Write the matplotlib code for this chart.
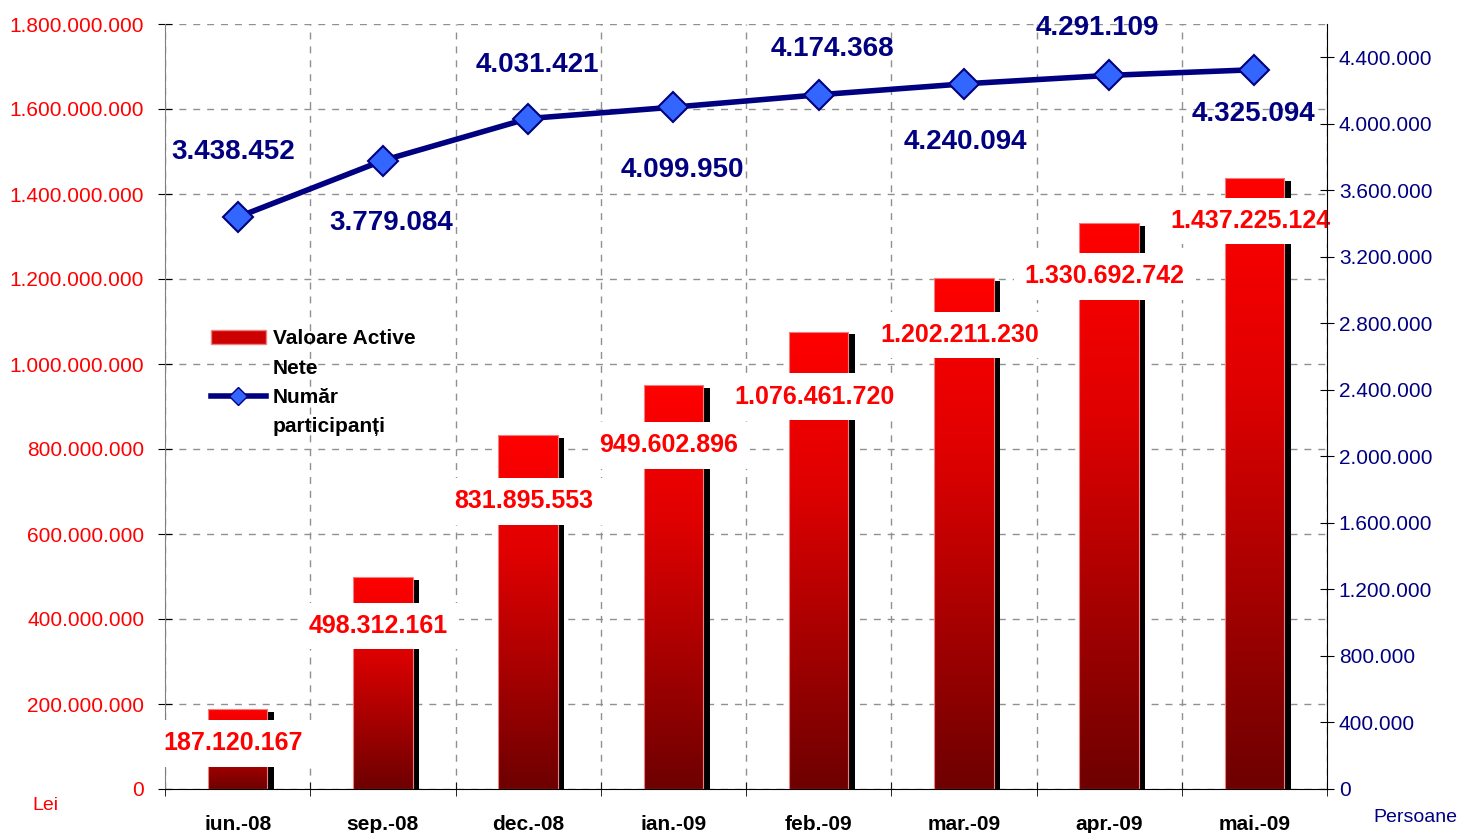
import matplotlib.pyplot as plt
import numpy as np
from matplotlib.colors import LinearSegmentedColormap
from matplotlib.patches import Patch
from matplotlib.lines import Line2D
from matplotlib.ticker import FuncFormatter, MultipleLocator

plt.rcParams['font.family'] = ['Liberation Sans', 'DejaVu Sans']

# data
luni = ['iun.-08', 'sep.-08', 'dec.-08', 'ian.-09', 'feb.-09', 'mar.-09', 'apr.-09', 'mai.-09']
active_nete = [187120167, 498312161, 831895553, 949602896, 1076461720, 1202211230, 1330692742, 1437225124]
participanti = [3438452, 3779084, 4031421, 4099950, 4174368, 4240094, 4291109, 4325094]

# label offsets in pixels (layout only)
bar_lbl_dy = [-34, -49, -66, -60, -65, -57, -53, -43]
line_lbl_dy = [65, -62, 54, -63, 46, -58, 47, -44]
line_lbl_dx = [-4, 8, 9, 9, 14, 1, -12, -1]

def fmt_dot(v, pos=None):
    return '{:,.0f}'.format(v).replace(',', '.')

fig = plt.figure(figsize=(14.65, 8.33), dpi=100)
ax = fig.add_axes([165/1465, 44/833, 1162/1465, 765/833])
ax2 = ax.twinx()

x = np.arange(len(luni))
w = 0.41

# shadows
for xi, v in zip(x, active_nete):
    ax.bar(xi + 0.045, v - 6e6, width=w, bottom=0, color='black', zorder=2)

cmap = LinearSegmentedColormap.from_list('rosu', ['#ff0000', '#e00000', '#a80000', '#6e0000'])
grad = np.linspace(0, 1, 256).reshape(-1, 1)
bars = ax.bar(x, active_nete, width=w, color='none', edgecolor='#f08080', linewidth=0.8, zorder=4)
for b in bars:
    im = ax.imshow(grad, cmap=cmap, aspect='auto', zorder=3,
                   extent=[b.get_x(), b.get_x() + b.get_width(), 0, b.get_height()])
    im.set_clip_path(b)

ax.set_xlim(-0.5, len(luni) - 0.5)
ax.set_ylim(0, 1.8e9)
ax.yaxis.set_major_locator(MultipleLocator(2e8))
ax.yaxis.set_major_formatter(FuncFormatter(fmt_dot))
ax.tick_params(axis='y', colors='black', labelcolor='red', labelsize=15, direction='inout',
               length=10, pad=10)
ax.set_xticks(x)
ax.set_xticklabels(luni, fontsize=15, fontweight='bold')
ax.tick_params(axis='x', which='major', length=0, pad=19)
ax.set_xticks(np.arange(-0.5, len(luni), 1), minor=True)
ax.tick_params(axis='x', which='minor', direction='inout', length=10)
ax.grid(True, axis='y', which='major', linestyle=(0, (5, 5)), color='#909090', linewidth=1)
ax.grid(True, axis='x', which='minor', linestyle=(0, (5, 5)), color='#909090', linewidth=1)
ax.set_axisbelow(True)
ax.spines['top'].set_visible(False)
ax.spines['left'].set_color('#808080')
ax.spines['right'].set_visible(False)

for xi, v, dy in zip(x, active_nete, bar_lbl_dy):
    ax.annotate(fmt_dot(v), (xi - 0.03, v), xytext=(0, dy), textcoords='offset pixels',
                ha='center', va='center', fontsize=18, fontweight='bold', color='red', zorder=6,
                bbox=dict(boxstyle='square,pad=0.45', facecolor='white', edgecolor='none'))

ax2.plot(x, participanti, color='#000080', linewidth=4, marker='D', markersize=15,
         markerfacecolor='#3366ff', markeredgecolor='#000080', markeredgewidth=1.5, zorder=7)
ax2.set_ylim(0, 4.6e6)
ax2.yaxis.set_major_locator(MultipleLocator(4e5))
ax2.yaxis.set_major_formatter(FuncFormatter(fmt_dot))
ax2.tick_params(axis='y', colors='black', labelcolor='#000080', labelsize=15, direction='inout', length=10)
for s in ['top', 'left', 'bottom']:
    ax2.spines[s].set_visible(False)
ax2.spines['right'].set_color('black')
ax2.set_zorder(ax.get_zorder() + 1)
ax2.patch.set_visible(False)

for xi, v, dx, dy in zip(x, participanti, line_lbl_dx, line_lbl_dy):
    ax2.annotate(fmt_dot(v), (xi, v), xytext=(dx, dy), textcoords='offset pixels',
                 ha='center', va='center', fontsize=20, fontweight='bold', color='#000080')

# legend: wrapped labels as separate rows so the spacing stays even
gol = Line2D([], [], linestyle='none')
handles = [Patch(facecolor='#cc0000', edgecolor='#f08080'), gol,
           Line2D([], [], color='#000080', linewidth=4, marker='D', markersize=9,
                  markerfacecolor='#3366ff', markeredgecolor='#000080'), gol]
ax2.legend(handles, ['Valoare Active', 'Nete', 'Număr', 'participanți'], loc='upper left',
           bbox_to_anchor=(0.032, 0.612), borderaxespad=0, frameon=False,
           prop={'size': 15, 'weight': 'bold'},
           handlelength=2.65, handletextpad=0.33, labelspacing=0.5)

fig.text(45/1465, 1 - 805/833, 'Lei', color='red', fontsize=14, ha='center', va='center')
fig.text(1415/1465, 1 - 817/833, 'Persoane', color='#000080', fontsize=14, ha='center', va='center')

fig.savefig('out.png', dpi=100)
